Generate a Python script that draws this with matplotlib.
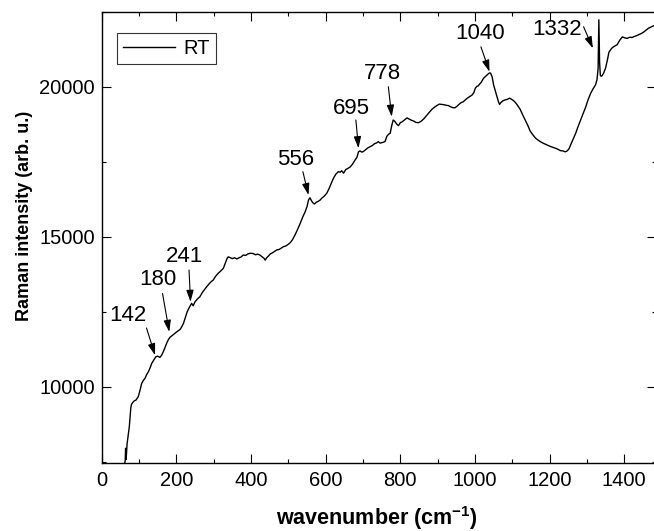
import numpy as np
import matplotlib
matplotlib.use('Agg')
import matplotlib.pyplot as plt
from matplotlib.ticker import MultipleLocator

# --- DATA ---
wavenumber = [
    60, 63, 64, 65.5, 68, 74, 78, 80, 86, 92, 98, 103, 107, 112, 116, 121, 125, 130, 134, 140,
    145, 150, 156, 161, 165, 170, 174, 179, 183, 190, 196, 203, 210, 215, 219, 224, 229, 235, 241, 245,
    250, 256, 263, 270, 276, 281, 287, 293, 299, 305, 312, 319, 326, 332, 336, 339, 345, 350, 356, 362,
    368, 374, 379, 386, 392, 399, 406, 412, 418, 424, 430, 435, 438, 442, 447, 451, 458, 464, 469, 476,
    481, 487, 493, 499, 505, 511, 518, 525, 532, 538, 545, 550, 554, 558, 562, 566, 570, 575, 580, 585,
    590, 596, 603, 609, 615, 621, 627, 634, 639, 643, 648, 654, 660, 666, 672, 679, 684, 688, 692, 697,
    701, 707, 713, 719, 725, 731, 737, 741, 746, 752, 759, 764, 769, 773, 777, 781, 785, 790, 795, 800,
    805, 812, 818, 824, 830, 835, 842, 849, 856, 863, 871, 878, 885, 893, 899, 905, 911, 917, 923, 929,
    935, 941, 947, 953, 958, 963, 969, 975, 981, 987, 992, 997, 1001, 1005, 1009, 1012, 1017, 1023, 1028, 1034,
    1039, 1042, 1046, 1050, 1055, 1059, 1063, 1066, 1070, 1075, 1081, 1087, 1093, 1098, 1103, 1108, 1114, 1121, 1128, 1135,
    1142, 1148, 1155, 1162, 1168, 1175, 1184, 1193, 1202, 1211, 1220, 1229, 1236, 1242, 1247, 1252, 1256, 1263, 1270, 1276,
    1283, 1290, 1297, 1303, 1310, 1317, 1323, 1327, 1330, 1332, 1334, 1336, 1338, 1341, 1345, 1350, 1355, 1359, 1364, 1368,
    1374, 1381, 1388, 1395, 1401, 1408, 1415, 1421, 1426, 1433, 1440, 1447, 1453, 1459, 1465, 1472, 1480, 1490,
]
intensity = [
    7300, 7550, 7950, 7580, 8100, 8670, 9300, 9420, 9520, 9560, 9670, 9900, 10110, 10220, 10280, 10420, 10500, 10640, 10780, 10900,
    11000, 11020, 10980, 11060, 11170, 11320, 11450, 11580, 11650, 11720, 11780, 11850, 11910, 12010, 12110, 12300, 12500, 12650, 12780, 12700,
    12830, 12920, 13000, 13150, 13250, 13330, 13420, 13500, 13560, 13680, 13780, 13860, 13950, 14150, 14280, 14330, 14300, 14270, 14300, 14260,
    14300, 14330, 14390, 14380, 14430, 14450, 14440, 14400, 14420, 14390, 14330, 14280, 14220, 14300, 14360, 14420, 14470, 14520, 14560, 14580,
    14620, 14670, 14690, 14740, 14800, 14900, 15060, 15250, 15450, 15640, 15830, 16000, 16220, 16300, 16200, 16130, 16090, 16150, 16180, 16220,
    16290, 16350, 16450, 16600, 16780, 16950, 17080, 17170, 17150, 17200, 17120, 17240, 17280, 17330, 17420, 17560, 17650, 17830, 17860, 17820,
    17840, 17900, 17960, 18000, 18040, 18100, 18130, 18170, 18120, 18140, 18170, 18350, 18420, 18450, 18700, 18890, 18850, 18760, 18700, 18800,
    18830, 18900, 18960, 18920, 18880, 18860, 18810, 18800, 18850, 18930, 19050, 19150, 19250, 19330, 19380, 19420, 19410, 19400, 19380, 19370,
    19330, 19300, 19300, 19360, 19420, 19470, 19500, 19570, 19630, 19680, 19720, 19800, 19950, 20010, 20030, 20080, 20150, 20280, 20340, 20410,
    20460, 20450, 20330, 20060, 19850, 19670, 19500, 19410, 19480, 19530, 19560, 19580, 19620, 19580, 19540, 19480, 19380, 19250, 19060, 18880,
    18700, 18520, 18400, 18290, 18230, 18170, 18110, 18060, 18010, 17970, 17930, 17870, 17860, 17830, 17860, 17930, 18050, 18250, 18450, 18660,
    18890, 19110, 19330, 19560, 19780, 19940, 20060, 20230, 20600, 22230, 20800, 20380, 20350, 20370, 20460, 20620, 20900, 21150, 21240, 21300,
    21350, 21400, 21550, 21660, 21630, 21610, 21650, 21640, 21670, 21700, 21740, 21780, 21830, 21890, 21950, 21990, 22040, 22080,
]

# peak labels: text, text centre, arrow tail, arrow tip (data coords)
peak_labels = ['142', '180', '241', '556', '695', '778', '1040', '1332']
label_pos = [(70, 12390), (151, 13560), (223, 14330), (520, 17560),
             (668, 19280), (751, 20450), (1014, 21780), (1220, 21920)]
arrow_tail = [(120, 11960), (163, 13110), (234, 13890), (539, 17170),
              (681, 18890), (768, 20000), (1016, 21330), (1291, 22000)]
arrow_tip = [(143, 11050), (181, 11830), (238, 12830), (554, 16390),
             (688, 17950), (777, 19000), (1039, 20500), (1316, 21280)]

plt.rcParams['font.family'] = ['Liberation Sans', 'DejaVu Sans']
plt.rcParams['mathtext.fontset'] = 'custom'
plt.rcParams['mathtext.rm'] = 'Liberation Sans'
plt.rcParams['mathtext.bf'] = 'Liberation Sans:bold'

fig = plt.figure(figsize=(6.54, 5.31), dpi=100)
ax = fig.add_axes([0.1555, 0.1286, 0.8475, 0.8494])

ax.plot(wavenumber, intensity, color='black', lw=1.0, label='RT')

for txt, tp, tail, tip in zip(peak_labels, label_pos, arrow_tail, arrow_tip):
    ax.text(tp[0], tp[1], txt, fontsize=16, ha='center', va='center')
    ax.annotate('', xy=tip, xytext=tail,
                arrowprops=dict(arrowstyle='-|>,head_length=0.7,head_width=0.22',
                                color='black', lw=0.8, shrinkA=0, shrinkB=0))

ax.set_xlim(0, 1485)
ax.set_ylim(7470, 22500)
ax.xaxis.set_major_locator(MultipleLocator(200))
ax.xaxis.set_minor_locator(MultipleLocator(100))
ax.yaxis.set_major_locator(MultipleLocator(5000))
ax.yaxis.set_minor_locator(MultipleLocator(2500))
ax.tick_params(which='both', direction='in', top=True, right=True, width=0.8, labelsize=14.5)
ax.tick_params(which='major', length=6.3)
ax.tick_params(which='minor', length=3.1)
ax.tick_params(axis='x', pad=6)
ax.tick_params(axis='y', pad=5)
for s in ax.spines.values():
    s.set_linewidth(1.0)

ax.set_xlabel(r'wavenumber (cm$^{\mathbf{-1}}$)', fontsize=15.5, fontweight='bold')
ax.xaxis.set_label_coords(0.496, -0.092)
ax.set_ylabel('Raman intensity (arb. u.)', fontsize=13, fontweight='bold')
ax.yaxis.set_label_coords(-0.124, 0.547)

leg = ax.legend(loc='upper left', bbox_to_anchor=(0.027, 0.952), borderaxespad=0,
                fontsize=14.5, handlelength=2.6, fancybox=False, frameon=True,
                borderpad=0.3, handletextpad=0.4)
leg.get_frame().set_edgecolor('black')
leg.get_frame().set_linewidth(0.8)

fig.savefig('out.png', dpi=100)
